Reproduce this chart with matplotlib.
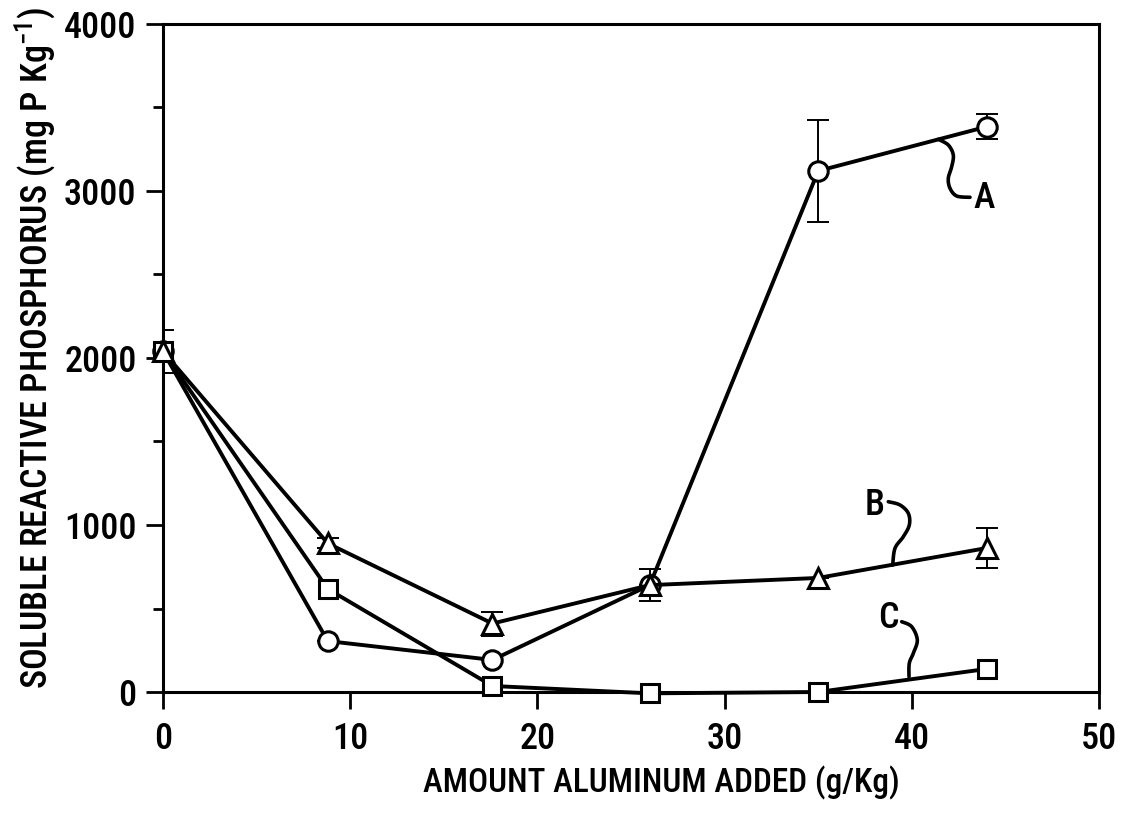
import numpy as np
import matplotlib
matplotlib.use("Agg")
import matplotlib.pyplot as plt
from matplotlib import font_manager as fm

# ---------------- data ----------------
aluminum = [0, 8.8, 17.6, 26, 35, 44]
series_A = [2040, 305, 192, 640, 3120, 3385]
err_A = [130, 0, 0, 95, 305, 75]
series_B = [2040, 890, 410, 640, 683, 862]
err_B = [0, 30, 72, 0, 0, 120]
series_C = [2040, 617, 36, -8, 0, 138]

x_ticks = [0, 10, 20, 30, 40, 50]
y_ticks = [0, 1000, 2000, 3000, 4000]
y_minor = [500, 1500, 2500, 3500]

available = set(f.name for f in fm.fontManager.ttflist)
prefs = ['Roboto Condensed', 'Archivo Narrow', 'PT Sans Narrow',
         'Liberation Sans Narrow', 'Pragati Narrow', 'Arimo', 'DejaVu Sans']
chosen = [p for p in prefs if p in available]
MAIN = chosen[0]
plt.rcParams['font.family'] = [MAIN, 'DejaVu Sans']
plt.rcParams['font.weight'] = 'medium'
plt.rcParams['axes.labelweight'] = 'medium'
plt.rcParams['mathtext.fontset'] = 'custom'
plt.rcParams['mathtext.rm'] = MAIN + ':medium'
plt.rcParams['mathtext.bf'] = MAIN + ':bold'

W, H = 1125, 813
fig = plt.figure(figsize=(W / 100, H / 100), dpi=100)
L, R, B_, T = 163, 1099, 692, 24
ax = fig.add_axes([L / W, 1 - B_ / H, (R - L) / W, (B_ - T) / H])

lw = 2.8
ms = 14
mew = 2.2

ax.errorbar(aluminum, series_A, yerr=err_A, fmt='none', ecolor='black',
            elinewidth=1.4, capsize=8, capthick=1.4, zorder=2)
ax.errorbar(aluminum, series_B, yerr=err_B, fmt='none', ecolor='black',
            elinewidth=1.4, capsize=8, capthick=1.4, zorder=2)

ax.plot(aluminum, series_A, color='black', lw=lw, marker='o', ms=ms,
        mfc='white', mec='black', mew=mew, zorder=3, clip_on=False)
ax.plot(aluminum, series_C, color='black', lw=lw, marker='s', ms=ms - 1.5,
        mfc='white', mec='black', mew=mew, zorder=4, clip_on=False)
ax.plot(aluminum, series_B, color='black', lw=lw, marker='^', ms=ms,
        mfc='white', mec='black', mew=mew, zorder=5, clip_on=False)

ax.set_xlim(0, 50)
ax.set_ylim(0, 4000)
ax.set_xticks(x_ticks)
ax.set_yticks(y_ticks)
ax.set_yticks(y_minor, minor=True)
ax.set_xticklabels([str(v) for v in x_ticks])
ax.set_yticklabels([str(v) for v in y_ticks])

FS = 26
ax.tick_params(axis='both', which='major', direction='out', length=12,
               width=2.0, labelsize=FS, top=False, right=False)
ax.tick_params(axis='x', which='major', pad=9)
ax.tick_params(axis='y', which='major', pad=7)
ax.tick_params(axis='y', which='minor', direction='out', length=7, width=2.0)
for s in ax.spines.values():
    s.set_linewidth(2.2)

ax.set_xlabel('AMOUNT ALUMINUM ADDED (g/Kg)', fontsize=24)
ax.xaxis.set_label_coords((661 - L) / (R - L), (B_ - 766) / (B_ - T))
ax.xaxis.label.set_va('top')
ax.set_ylabel(r'SOLUBLE REACTIVE PHOSPHORUS (mg P Kg$^{\mathregular{-1}}$)',
              fontsize=26)
ax.yaxis.set_label_coords((58 - L) / (R - L), (B_ - 348) / (B_ - T))


def px2ax(pts):
    return [((px - L) / (R - L), (B_ - py) / (B_ - T)) for px, py in pts]


def catmull(pts, n=20):
    p = np.array(pts, dtype=float)
    p = np.vstack([p[0], p, p[-1]])
    out = []
    for i in range(1, len(p) - 2):
        p0, p1, p2, p3 = p[i - 1], p[i], p[i + 1], p[i + 2]
        for t in np.linspace(0, 1, n, endpoint=False):
            t2, t3 = t * t, t * t * t
            out.append(0.5 * ((2 * p1) + (-p0 + p2) * t +
                              (2 * p0 - 5 * p1 + 4 * p2 - p3) * t2 +
                              (-p0 + 3 * p1 - 3 * p2 + p3) * t3))
    out.append(p[-2])
    return np.array(out)


leaders = {
    'A': [(938.3, 139.3), (948.3, 145), (953.3, 155), (951.7, 166.7),
          (948.3, 178.3), (950, 188.3), (956.7, 196), (970, 197.3)],
    'B': [(888.3, 501.7), (900, 505), (908.3, 513.3), (909.3, 525),
          (903.3, 536.7), (895, 548.3), (892.7, 565)],
    'C': [(901.7, 621.7), (911.7, 626.7), (917.3, 640), (913.3, 653.3),
          (909.3, 663.3), (909, 676.7)],
}
for k, pts in leaders.items():
    c = catmull(px2ax(pts))
    ax.plot(c[:, 0], c[:, 1], color='black', lw=2.6, transform=ax.transAxes,
            solid_capstyle='round', zorder=6, clip_on=False)

labels = {'A': (984, 198), 'B': (875, 505), 'C': (888, 618)}
for k, (px, py) in labels.items():
    (axx, axy), = px2ax([(px, py)])
    ax.text(axx, axy, k, transform=ax.transAxes, fontsize=FS,
            ha='center', va='center', zorder=7)

fig.savefig('out.png', dpi=100)
